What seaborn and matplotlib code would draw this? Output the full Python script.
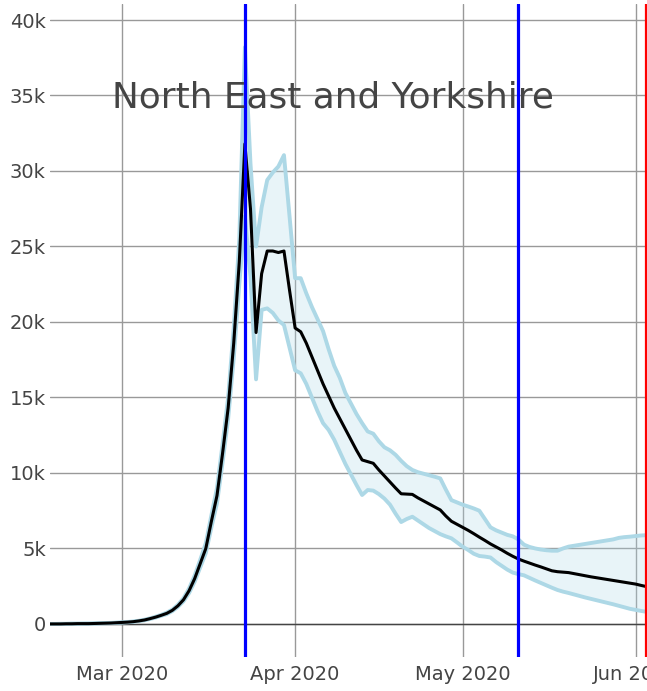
import matplotlib
matplotlib.use('Agg')
import matplotlib.pyplot as plt
import matplotlib.dates as mdates
from matplotlib.ticker import FuncFormatter
import seaborn as sns
import pandas as pd

# daily values (thousands), starting 2020-02-17
start_date = '2020-02-17'
mean_k = [0.0, 0.0, 0.0, 0.01, 0.01, 0.02, 0.02, 0.02, 0.03, 0.04, 0.05, 0.06, 0.08,
          0.1, 0.12, 0.15, 0.2, 0.26, 0.35, 0.45, 0.57, 0.7, 0.9, 1.2, 1.6, 2.2,
          3.0, 4.0, 5.0, 6.8, 8.5, 11.3, 14.3, 18.6, 24.0, 31.8, 27.5, 19.3, 23.2,
          24.7, 24.7, 24.6, 24.7, 22.1, 19.6, 19.35, 18.6, 17.7, 16.8, 15.9, 15.1,
          14.3, 13.6, 12.9, 12.2, 11.5, 10.86, 10.75, 10.64, 10.2, 9.8, 9.4, 9.0,
          8.62, 8.6, 8.58, 8.35, 8.15, 7.95, 7.75, 7.55, 7.15, 6.8, 6.6, 6.4, 6.2,
          5.98, 5.75, 5.53, 5.3, 5.1, 4.9, 4.68, 4.48, 4.3, 4.16, 4.03, 3.9, 3.78,
          3.65, 3.52, 3.46, 3.43, 3.4, 3.33, 3.26, 3.19, 3.12, 3.06, 3.0, 2.94, 2.88,
          2.82, 2.76, 2.7, 2.64, 2.55, 2.47, 2.42]
upper_k = [0.0, 0.0, 0.01, 0.01, 0.02, 0.02, 0.03, 0.03, 0.04, 0.05, 0.06, 0.07, 0.09,
           0.11, 0.13, 0.16, 0.21, 0.28, 0.37, 0.48, 0.6, 0.75, 0.95, 1.27, 1.7, 2.35,
           3.2, 4.25, 5.35, 7.2, 9.0, 11.9, 15.0, 19.6, 25.5, 38.2, 30.5, 25.0, 27.6,
           29.4, 29.9, 30.3, 31.05, 27.0, 22.9, 22.9, 21.9, 21.0, 20.2, 19.4, 18.2,
           17.1, 16.3, 15.3, 14.6, 13.9, 13.3, 12.75, 12.6, 12.1, 11.7, 11.5, 11.2,
           10.8, 10.45, 10.2, 10.05, 9.95, 9.85, 9.75, 9.64, 8.9, 8.2, 8.05, 7.9, 7.78,
           7.65, 7.5, 6.95, 6.4, 6.2, 6.05, 5.9, 5.8, 5.6, 5.25, 5.1, 5.0, 4.93, 4.88,
           4.85, 4.85, 5.0, 5.12, 5.18, 5.24, 5.3, 5.36, 5.42, 5.48, 5.54, 5.6, 5.7,
           5.75, 5.78, 5.82, 5.86, 5.88, 5.9]
lower_k = [0.0, 0.0, 0.0, 0.0, 0.01, 0.01, 0.01, 0.02, 0.02, 0.03, 0.04, 0.05, 0.07,
           0.09, 0.11, 0.14, 0.19, 0.24, 0.33, 0.42, 0.54, 0.65, 0.85, 1.13, 1.5, 2.05,
           2.8, 3.75, 4.7, 6.4, 8.0, 10.7, 13.6, 17.6, 22.5, 27.0, 23.0, 16.2, 20.8,
           20.9, 20.6, 20.1, 19.8, 18.3, 16.8, 16.6, 15.9, 15.0, 14.1, 13.3, 12.85,
           12.2, 11.4, 10.6, 9.9, 9.2, 8.54, 8.87, 8.83, 8.6, 8.3, 7.9, 7.3, 6.75,
           6.95, 7.1, 6.85, 6.6, 6.35, 6.15, 5.95, 5.8, 5.67, 5.4, 5.12, 4.9, 4.65,
           4.5, 4.46, 4.4, 4.1, 3.85, 3.6, 3.4, 3.3, 3.22, 3.05, 2.88, 2.72, 2.56,
           2.4, 2.25, 2.14, 2.05, 1.95, 1.85, 1.75, 1.66, 1.57, 1.48, 1.39, 1.3, 1.2,
           1.1, 1.0, 0.93, 0.86, 0.8, 0.76]
blue_dates = ['2020-03-23', '2020-05-11']
red_date = '2020-06-02 19:00'
title = 'North East and Yorkshire'

df = pd.DataFrame({
    'date': pd.date_range(start_date, periods=len(mean_k), freq='D'),
    'mean': mean_k, 'upper': upper_k, 'lower': lower_k,
})

sns.set_style('white')
plt.rcParams['font.family'] = ['DejaVu Sans']

fig = plt.figure(figsize=(6.47, 6.91), dpi=100)
ax = fig.add_axes([50 / 647, 34 / 691, 597 / 647, 653 / 691])

ax.fill_between(df['date'], df['lower'], df['upper'], color='#add8e6', alpha=0.28,
                linewidth=0, zorder=2)
sns.lineplot(x='date', y='upper', data=df, color='#add8e6', linewidth=2.8, ax=ax, zorder=3)
sns.lineplot(x='date', y='lower', data=df, color='#add8e6', linewidth=2.8, ax=ax, zorder=3)
sns.lineplot(x='date', y='mean', data=df, color='black', linewidth=2.2, ax=ax, zorder=4)

for d in blue_dates:
    ax.axvline(pd.Timestamp(d), color='#0000ff', linewidth=2.3, zorder=5)
ax.axvline(pd.Timestamp(red_date), color='#ff0000', linewidth=1.6, zorder=5)
ax.axhline(0, color='#444444', linewidth=1.0, zorder=1.5)

ax.set_xlim(pd.Timestamp('2020-02-17 02:00'), pd.Timestamp('2020-06-03 01:00'))
ax.set_ylim(-2.19, 41.06)
ax.set_yticks(range(0, 41, 5))
ax.yaxis.set_major_formatter(FuncFormatter(lambda v, p: '0' if v == 0 else f'{int(v)}k'))
ax.xaxis.set_major_locator(mdates.MonthLocator())
ax.xaxis.set_major_formatter(mdates.DateFormatter('%b %Y'))

ax.grid(True, color='#999999', linewidth=1.0, zorder=1)
ax.set_axisbelow(True)
for s in ax.spines.values():
    s.set_visible(False)
ax.tick_params(axis='both', length=0, labelsize=14, labelcolor='#444444')
ax.tick_params(axis='x', pad=6)
ax.tick_params(axis='y', pad=3)
ax.set_xlabel('')
ax.set_ylabel('')

fig.text(333 / 647, 1 - 97 / 691, title, fontsize=25.8, color='#444444',
         ha='center', va='center')

plt.savefig('out.png', dpi=100)
